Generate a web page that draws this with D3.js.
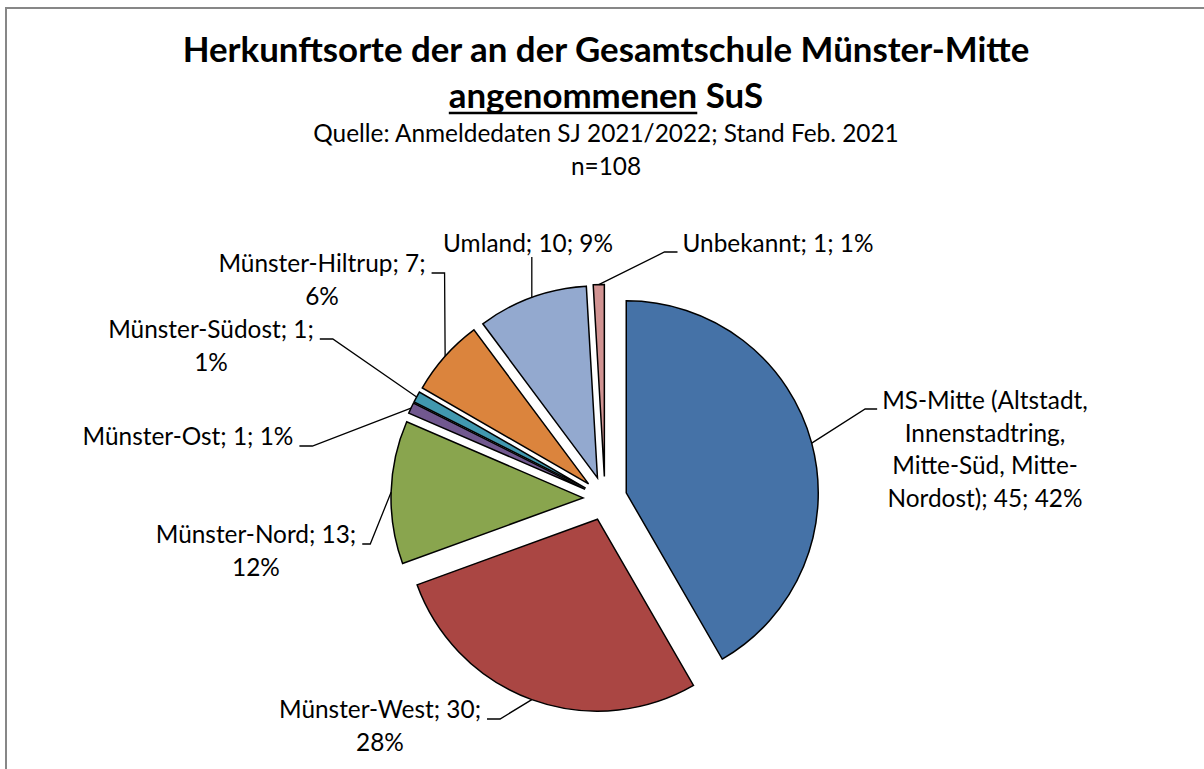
<!DOCTYPE html>
<html>
<head>
<meta charset="utf-8">
<script src="https://cdn.jsdelivr.net/npm/d3@7"></script>
<style>
  html, body { margin: 0; padding: 0; background: #ffffff; }
  svg { display: block; }
</style>
</head>
<body>
<svg id="chart" width="1204" height="769"></svg>
<script>
// ---------------- DATA ----------------
const categories = [
  "MS-Mitte (Altstadt, Innenstadtring, Mitte-Süd, Mitte-Nordost)",
  "Münster-West",
  "Münster-Nord",
  "Münster-Ost",
  "Münster-Südost",
  "Münster-Hiltrup",
  "Umland",
  "Unbekannt"
];
const values = [45, 30, 13, 1, 1, 7, 10, 1];
const colors = ["#4572A7", "#AA4643", "#89A54E", "#71588F", "#4198AF", "#DB843D", "#93A9CF", "#D19392"];
const titleLine1 = "Herkunftsorte der an der Gesamtschule Münster-Mitte";
const titleLine2Underlined = "angenommenen";
const titleLine2Rest = "SuS";
const subtitleLines = ["Quelle: Anmeldedaten SJ 2021/2022; Stand Feb. 2021", "n=108"];

// ---------------- LAYOUT ----------------
const W = 1204, H = 769;
const FONT = "Lato, 'Open Sans', sans-serif";
const PIE_CX = 605, PIE_CY = 498.5, R = 192, EXPLODE = 22;
// label placement per category: text centre x, first baseline, wrap width, leader side, hook length
const labelLayout = [
  { cx: 985, y: 409, wrap: 215, side: "R", hook: 12 },
  { cx: 380, y: 718, wrap: 215, side: "L", hook: 13 },
  { cx: 256, y: 543, wrap: 215, side: "L", hook: 8 },
  { cx: 188, y: 445, wrap: 270, side: "L", hook: 13 },
  { cx: 211, y: 338, wrap: 215, side: "L", hook: 13 },
  { cx: 322, y: 272, wrap: 215, side: "L", hook: 13 },
  { cx: 528, y: 252, wrap: 300, side: "B", hook: 0 },
  { cx: 778, y: 252, wrap: 300, side: "R", hook: 13 }
];
const LINE_H = 32.5;

const svg = d3.select("#chart");

function measure(txt, size, weight) {
  const t = svg.append("text")
    .attr("font-family", FONT).attr("font-size", size).attr("font-weight", weight)
    .text(txt);
  const w = t.node().getComputedTextLength();
  t.remove();
  return w;
}

function draw() {
  // calibrate font sizes to the reference text widths
  const labelSize = 100 * 170 / measure("Umland; 10; 9%", 100, 400);
  const subSize = 100 * 586 / measure(subtitleLines[0], 100, 400);
  const titleSize = 100 * 847 / measure(titleLine1, 100, 700);

  // chart border (extends beyond viewport on right and bottom)
  svg.append("rect")
    .attr("x", 6).attr("y", 8).attr("width", W + 50).attr("height", H + 50)
    .attr("fill", "#ffffff").attr("stroke", "#878787").attr("stroke-width", 2);

  // title
  const TX = 606;
  svg.append("text")
    .attr("x", TX).attr("y", 62).attr("text-anchor", "middle")
    .attr("font-family", FONT).attr("font-size", titleSize).attr("font-weight", 700)
    .attr("fill", "#000").text(titleLine1);

  const line2 = titleLine2Underlined + " " + titleLine2Rest;
  const wAll = measure(line2, titleSize, 700);
  const wU = measure(titleLine2Underlined, titleSize, 700);
  svg.append("text")
    .attr("x", TX).attr("y", 108).attr("text-anchor", "middle")
    .attr("font-family", FONT).attr("font-size", titleSize).attr("font-weight", 700)
    .attr("fill", "#000").text(line2);
  const ux0 = TX - wAll / 2;
  svg.append("line")
    .attr("x1", ux0).attr("x2", ux0 + wU).attr("y1", 113).attr("y2", 113)
    .attr("stroke", "#000").attr("stroke-width", 2.6);

  subtitleLines.forEach((s, i) => {
    svg.append("text")
      .attr("x", TX).attr("y", 142 + i * 33).attr("text-anchor", "middle")
      .attr("font-family", FONT).attr("font-size", subSize)
      .attr("fill", "#000").text(s);
  });

  // pie
  const total = d3.sum(values);
  const color = d3.scaleOrdinal(categories, colors);
  const data = categories.map((c, i) => ({ cat: c, value: values[i], i }));
  const arcs = d3.pie().sort(null).value(d => d.value).startAngle(0).endAngle(2 * Math.PI)(data);
  const arc = d3.arc().innerRadius(0).outerRadius(R);
  const mid = d => (d.startAngle + d.endAngle) / 2;
  const g = svg.append("g").attr("transform", `translate(${PIE_CX},${PIE_CY})`);

  g.selectAll("path.slice").data(arcs).join("path")
    .attr("class", "slice")
    .attr("d", arc)
    .attr("transform", d => `translate(${EXPLODE * Math.sin(mid(d))},${-EXPLODE * Math.cos(mid(d))})`)
    .attr("fill", d => color(d.data.cat))
    .attr("stroke", "#000").attr("stroke-width", 1.5).attr("stroke-linejoin", "miter");

  // labels and leader lines
  function wrap(text, maxW) {
    const tokens = text.split(/(?<=[\s-])/);
    const lines = [];
    let cur = "";
    tokens.forEach(tok => {
      const trial = cur + tok;
      if (cur && measure(trial.trim(), labelSize, 400) > maxW) {
        lines.push(cur.trim());
        cur = tok;
      } else {
        cur = trial;
      }
    });
    if (cur.trim()) lines.push(cur.trim());
    return lines;
  }

  const lineGen = d3.line();
  arcs.forEach((d, i) => {
    const L = labelLayout[i];
    const pct = Math.round(d.data.value / total * 100);
    const label = `${d.data.cat}; ${d.data.value}; ${pct}%`;
    const lines = wrap(label, L.wrap);
    const t = svg.append("text")
      .attr("text-anchor", "middle")
      .attr("font-family", FONT).attr("font-size", labelSize).attr("fill", "#000");
    lines.forEach((ln, k) => {
      t.append("tspan").attr("x", L.cx).attr("y", L.y + k * LINE_H).text(ln);
    });
    const w1 = measure(lines[0], labelSize, 400);
    const a = mid(d);
    const px = PIE_CX + (EXPLODE + R) * Math.sin(a);
    const py = PIE_CY - (EXPLODE + R) * Math.cos(a);
    let pts;
    if (L.side === "L") {
      const x0 = L.cx + w1 / 2 + 6;
      pts = [[x0, L.y + 1], [x0 + L.hook, L.y + 1], [px, py]];
    } else if (L.side === "R") {
      const x0 = L.cx - w1 / 2 - 5;
      pts = [[x0, L.y], [x0 - L.hook, L.y], [px, py]];
    } else {
      pts = [[px, L.y + 5], [px, py]];
    }
    svg.append("path").attr("d", lineGen(pts))
      .attr("fill", "none").attr("stroke", "#000").attr("stroke-width", 1.3);
  });
}

if (document.fonts && document.fonts.ready) {
  document.fonts.ready.then(draw);
} else {
  draw();
}
</script>
</body>
</html>
